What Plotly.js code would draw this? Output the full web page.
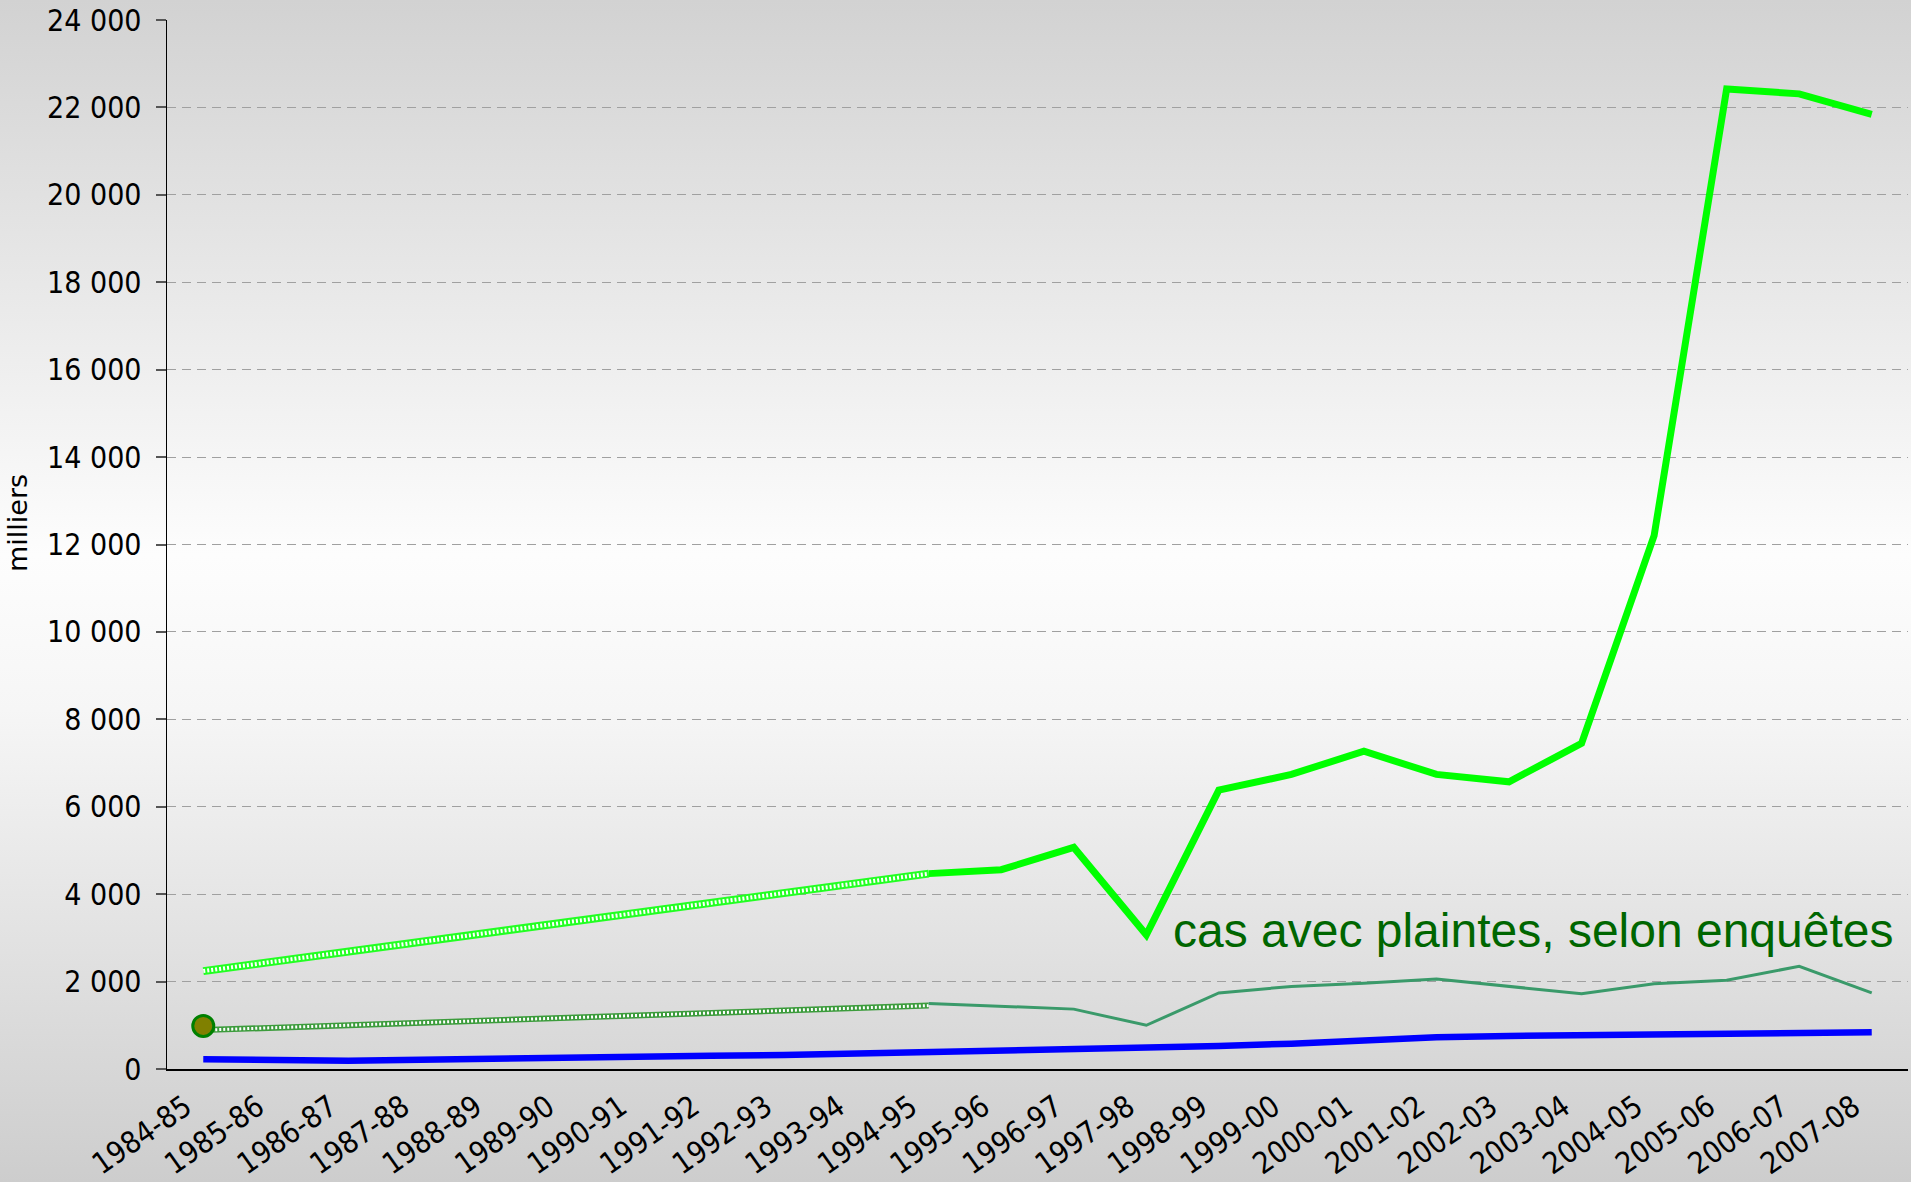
<!DOCTYPE html>
<html>
<head>
<meta charset="utf-8">
<script src="https://cdn.plot.ly/plotly-3.0.1.min.js"></script>
<style>
  html, body { margin: 0; padding: 0; width: 1911px; height: 1182px; overflow: hidden;
    background: linear-gradient(to bottom, #d2d2d2 0%, #fdfdfd 47%, #f6f6f6 60%, #cdcdcd 100%); }
  #chart { width: 1911px; height: 1182px; }
</style>
</head>
<body>
<div id="chart"></div>
<script>
// Categories (school years)
const categories = ['1984-85','1985-86','1986-87','1987-88','1988-89','1989-90','1990-91','1991-92',
  '1992-93','1993-94','1994-95','1995-96','1996-97','1997-98','1998-99','1999-00','2000-01',
  '2001-02','2002-03','2003-04','2004-05','2005-06','2006-07','2007-08'];

// Bright green: cas avec plaintes, selon enquêtes (from 1994-95)
const plaintesYears = ['1994-95','1995-96','1996-97','1997-98','1998-99','1999-00','2000-01',
  '2001-02','2002-03','2003-04','2004-05','2005-06','2006-07','2007-08'];
const plaintesValues = [4470, 4560, 5070, 3070, 6380, 6740, 7270, 6740, 6570, 7450, 12200, 22420, 22310, 21840];

// Bright green hatched estimate segment (1984-85 to 1994-95)
const plaintesEstYears = ['1984-85','1994-95'];
const plaintesEstValues = [2240, 4470];

// Sea green thin series (from 1994-95)
const secondValues = [1500, 1440, 1370, 1000, 1740, 1890, 1960, 2060, 1890, 1720, 1950, 2030, 2350, 1740];

// Dark green hatched estimate segment
const secondEstYears = ['1984-85','1994-95'];
const secondEstValues = [890, 1450];

// Blue series (all years)
const blueValues = [222, 206, 190, 213, 245, 268, 290, 305, 320, 350, 396, 427, 457, 496, 526, 580,
  656, 725, 755, 770, 793, 801, 824, 839];

// Single point marker
const pointYear = ['1984-85'];
const pointValue = [985];

const annotationText = 'cas avec plaintes, selon enquêtes';
const yTitle = 'milliers';

const traces = [
  // light green hatched
  { x: plaintesEstYears, y: plaintesEstValues, type: 'scatter', mode: 'lines',
    line: { color: '#22ff22', width: 8 }, hoverinfo: 'skip', showlegend: false },
  { x: plaintesEstYears, y: plaintesEstValues, type: 'scatter', mode: 'lines',
    line: { color: '#ffffff', width: 4, dash: '2px,2px' }, hoverinfo: 'skip', showlegend: false },
  // dark green hatched
  { x: secondEstYears, y: secondEstValues, type: 'scatter', mode: 'lines',
    line: { color: '#3c9c3c', width: 6 }, hoverinfo: 'skip', showlegend: false },
  { x: secondEstYears, y: secondEstValues, type: 'scatter', mode: 'lines',
    line: { color: '#ffffff', width: 3, dash: '2px,2px' }, hoverinfo: 'skip', showlegend: false },
  // sea green thin
  { x: plaintesYears, y: secondValues, type: 'scatter', mode: 'lines',
    line: { color: '#3a9a6a', width: 3 }, showlegend: false },
  // blue
  { x: categories, y: blueValues, type: 'scatter', mode: 'lines',
    line: { color: '#0000ff', width: 6.5 }, showlegend: false },
  // bright green
  { x: plaintesYears, y: plaintesValues, type: 'scatter', mode: 'lines',
    line: { color: '#00ff00', width: 7 }, showlegend: false },
  // point
  { x: pointYear, y: pointValue, type: 'scatter', mode: 'markers',
    marker: { size: 21, color: '#808000', line: { color: '#008000', width: 3 } }, showlegend: false }
];

const tickFont = { family: '"DejaVu Sans Condensed", "DejaVu Sans", sans-serif', size: 30, color: '#000000' };

const layout = {
  width: 1911, height: 1182,
  margin: { l: 167, r: 3, t: 20, b: 113 },
  paper_bgcolor: 'rgba(0,0,0,0)',
  plot_bgcolor: 'rgba(0,0,0,0)',
  separators: ', ',
  showlegend: false,
  xaxis: {
    type: 'category',
    categoryorder: 'array',
    categoryarray: categories,
    range: [-0.5, 23.5],
    showgrid: false,
    showline: true, linecolor: '#000000', linewidth: 1.5,
    ticks: '',
    tickangle: -35,
    tickfont: tickFont,
    ticklabelshift: -18,
    ticklabelstandoff: 7,
    zeroline: false,
    fixedrange: true
  },
  yaxis: {
    range: [0, 24000],
    dtick: 2000,
    tick0: 0,
    tickformat: ',d',
    separatethousands: true,
    showgrid: true, gridcolor: '#a0a0a0', griddash: '9px,6px', gridwidth: 1,
    showline: true, linecolor: '#000000', linewidth: 1.5,
    ticks: 'outside', ticklen: 10, tickcolor: '#555555', tickwidth: 2,
    tickfont: tickFont,
    ticklabelstandoff: 8,
    zeroline: false,
    fixedrange: true
  },
  annotations: [
    { text: annotationText, xref: 'paper', yref: 'paper', x: 0.9925, y: 0.1316,
      xanchor: 'right', yanchor: 'middle', showarrow: false,
      font: { family: '"Liberation Sans", Arial, sans-serif', size: 48, color: '#006600' } },
    { text: yTitle, xref: 'paper', yref: 'paper', x: -0.0856, y: 0.5205, textangle: -90,
      xanchor: 'center', yanchor: 'middle', showarrow: false,
      font: { family: '"DejaVu Sans", sans-serif', size: 27, color: '#000000' } }
  ]
};

Plotly.newPlot('chart', traces, layout, { displayModeBar: false, staticPlot: true });
</script>
</body>
</html>
